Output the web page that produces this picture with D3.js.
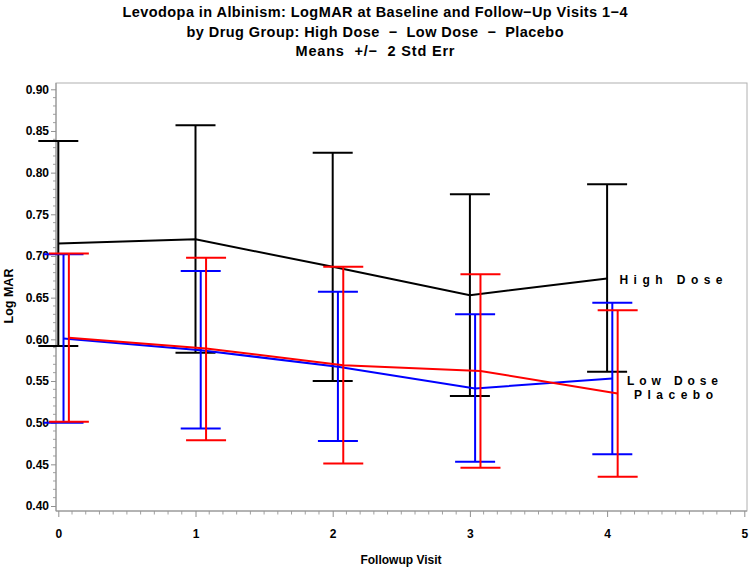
<!DOCTYPE html>
<html>
<head>
<meta charset="utf-8">
<script src="https://cdn.jsdelivr.net/npm/d3@7"></script>
<style>
  html, body { margin: 0; padding: 0; background: #fff; }
  svg { display: block; }
  text { font-family: "Liberation Sans", Arial, Helvetica, sans-serif; font-weight: bold; fill: #000; }
</style>
</head>
<body>
<script>
// ---- data ----
const titleLines = [
  "Levodopa in Albinism: LogMAR at Baseline and Follow\u2212Up Visits 1\u22124",
  "by Drug Group: High Dose  \u2212  Low Dose  \u2212  Placebo",
  "Means  +/\u2212  2 Std Err"
];
const titleWidths = [505, 377, 159];
const visits = [0, 1, 2, 3, 4];
const xTicks = [0, 1, 2, 3, 4, 5];
const yTicks = [0.40, 0.45, 0.50, 0.55, 0.60, 0.65, 0.70, 0.75, 0.80, 0.85, 0.90];

const groups = ["High Dose", "Low Dose", "Placebo"];
const highMean = [0.715, 0.720, 0.687, 0.653, 0.673];
const highLo   = [0.592, 0.584, 0.550, 0.532, 0.561];
const highHi   = [0.838, 0.857, 0.824, 0.774, 0.786];
const lowMean  = [0.601, 0.587, 0.567, 0.541, 0.553];
const lowLo    = [0.500, 0.493, 0.478, 0.453, 0.462];
const lowHi    = [0.702, 0.682, 0.657, 0.630, 0.644];
const placMean = [0.602, 0.589, 0.569, 0.562, 0.535];
const placLo   = [0.501, 0.479, 0.451, 0.446, 0.435];
const placHi   = [0.703, 0.698, 0.687, 0.678, 0.635];

// ---- layout ----
const W = 750, H = 568;
const frame = {left: 56, right: 747, top: 83, bottom: 511};
const x = d3.scaleLinear().domain([0, 5]).range([58.3, 744.3]);
const y = d3.scaleLinear().domain([0.40, 0.90]).range([506, 89.3]);

const series = [
  {name: groups[0], color: "#000000", off: 0,     mean: highMean, lo: highLo, hi: highHi},
  {name: groups[1], color: "#0000ff", off: 0.038, mean: lowMean,  lo: lowLo,  hi: lowHi},
  {name: groups[2], color: "#ff0000", off: 0.077, mean: placMean, lo: placLo, hi: placHi}
];

const svg = d3.select("body").append("svg").attr("width", W).attr("height", H);

// titles
svg.selectAll("text.title").data(titleLines).join("text")
  .attr("class", "title")
  .attr("x", 375).attr("y", (d, i) => 17 + i * 19.5)
  .attr("text-anchor", "middle")
  .attr("textLength", (d, i) => titleWidths[i]).attr("lengthAdjust", "spacing")
  .style("font-size", "14.5px")
  .style("white-space", "pre")
  .text(d => d);

// frame
svg.append("rect")
  .attr("x", frame.left).attr("y", frame.top)
  .attr("width", frame.right - frame.left).attr("height", frame.bottom - frame.top)
  .attr("fill", "none").attr("stroke", "#b0b0b0").attr("stroke-width", 1);

// y axis
const yAxis = d3.axisLeft(y).tickValues(yTicks).tickFormat(d3.format(".2f")).tickSize(5).tickPadding(2);
const gy = svg.append("g").attr("transform", `translate(${frame.left},0)`).call(yAxis);
gy.select(".domain").remove();
gy.selectAll(".tick line").attr("stroke", "#909090");
gy.selectAll(".tick text").style("font-size", "12px").attr("font-family", null);
const yMinor = d3.range(0.40, 0.9001, 0.01).filter(v => Math.abs(v * 20 - Math.round(v * 20)) > 1e-6);
svg.append("g").selectAll("line").data(yMinor).join("line")
  .attr("x1", frame.left - 3).attr("x2", frame.left)
  .attr("y1", d => y(d)).attr("y2", d => y(d))
  .attr("stroke", "#a0a0a0");
svg.append("line").attr("x1", frame.left).attr("x2", frame.left)
  .attr("y1", frame.top).attr("y2", frame.bottom).attr("stroke", "#909090");

// x axis
const xAxis = d3.axisBottom(x).tickValues(xTicks).tickFormat(d3.format("d")).tickSize(6).tickPadding(12);
const gx = svg.append("g").attr("transform", `translate(0,${frame.bottom})`).call(xAxis);
gx.select(".domain").remove();
gx.selectAll(".tick line").attr("stroke", "#909090");
gx.selectAll(".tick text").style("font-size", "12px").attr("font-family", null);
const xMinor = d3.range(0, 50).map(i => i / 10).filter(v => Math.abs(v - Math.round(v)) > 1e-6);
svg.append("g").selectAll("line").data(xMinor).join("line")
  .attr("x1", d => x(d)).attr("x2", d => x(d))
  .attr("y1", frame.bottom).attr("y2", frame.bottom + 3.5)
  .attr("stroke", "#a0a0a0");
svg.append("line").attr("x1", frame.left).attr("x2", frame.right)
  .attr("y1", frame.bottom).attr("y2", frame.bottom).attr("stroke", "#909090");

// axis labels
svg.append("text").attr("x", 401).attr("y", 564).attr("text-anchor", "middle")
  .style("font-size", "12px").text("Followup Visit");
svg.append("text").attr("transform", "translate(13,296) rotate(-90)").attr("text-anchor", "middle")
  .style("font-size", "12.5px").text("Log MAR");

// series
const capHalf = 20;
series.forEach(s => {
  const g = svg.append("g");
  const pts = visits.map((v, i) => ({v, i}));
  g.selectAll("line.bar").data(pts).join("line").attr("class", "bar")
    .attr("x1", d => x(d.v + s.off)).attr("x2", d => x(d.v + s.off))
    .attr("y1", d => y(s.lo[d.i])).attr("y2", d => y(s.hi[d.i]))
    .attr("stroke", s.color).attr("stroke-width", 2);
  g.selectAll("line.capHi").data(pts).join("line").attr("class", "capHi")
    .attr("x1", d => x(d.v + s.off) - capHalf).attr("x2", d => x(d.v + s.off) + capHalf)
    .attr("y1", d => y(s.hi[d.i])).attr("y2", d => y(s.hi[d.i]))
    .attr("stroke", s.color).attr("stroke-width", 2);
  g.selectAll("line.capLo").data(pts).join("line").attr("class", "capLo")
    .attr("x1", d => x(d.v + s.off) - capHalf).attr("x2", d => x(d.v + s.off) + capHalf)
    .attr("y1", d => y(s.lo[d.i])).attr("y2", d => y(s.lo[d.i]))
    .attr("stroke", s.color).attr("stroke-width", 2);
  const line = d3.line().x(d => x(d.v + s.off)).y(d => y(s.mean[d.i]));
  g.append("path").datum(pts).attr("d", line)
    .attr("fill", "none").attr("stroke", s.color).attr("stroke-width", 2);
});

// end labels
const labelPos = [
  {text: groups[0], x: 619.5, y: 284, w: 103},
  {text: groups[1], x: 627, y: 385, w: 91},
  {text: groups[2], x: 634, y: 399, w: 79}
];
svg.selectAll("text.lab").data(labelPos).join("text").attr("class", "lab")
  .attr("x", d => d.x).attr("y", d => d.y)
  .attr("textLength", d => d.w).attr("lengthAdjust", "spacing")
  .style("font-size", "12px")
  .text(d => d.text);
</script>
</body>
</html>
